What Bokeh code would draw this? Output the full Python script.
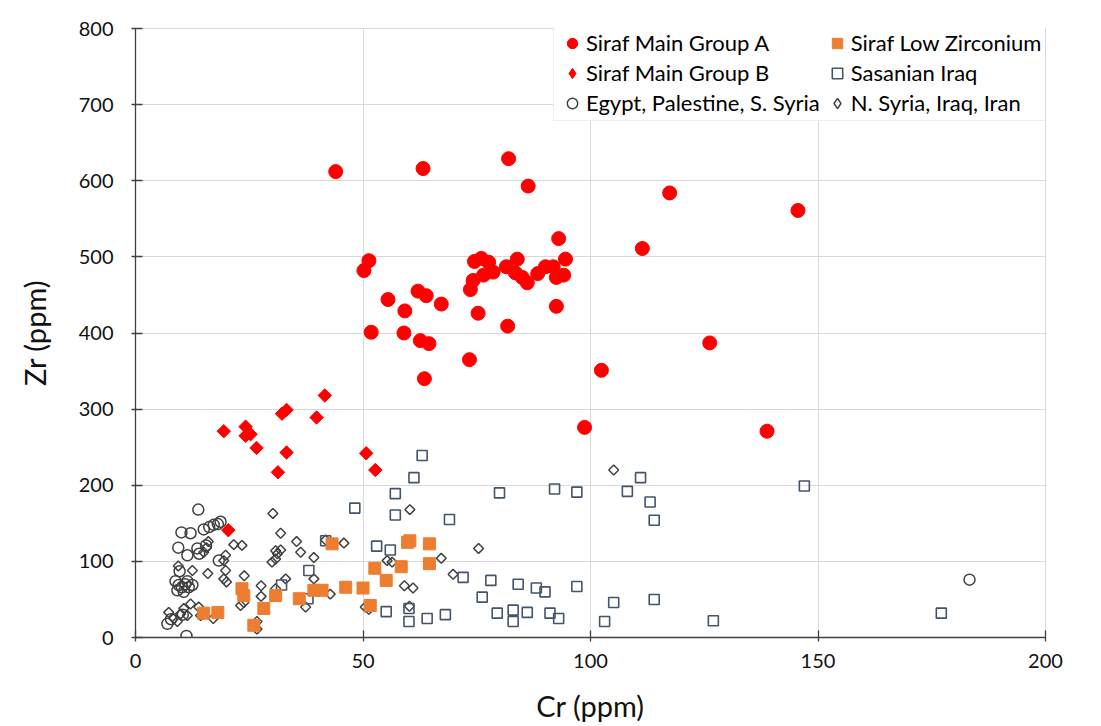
from bokeh.plotting import figure
from bokeh.models import Legend, LegendItem, Range1d, FixedTicker
from bokeh.embed import file_html
from bokeh.resources import INLINE
import math

# Cr and Zr concentrations (ppm) per glass group
grpA_cr = [44.0, 63.2, 82.0, 86.3, 117.4, 145.6, 111.4, 93.0, 51.3, 50.2, 94.5,
           74.5, 76.0, 77.6, 73.6, 74.2, 76.5, 78.6, 81.5, 83.9, 83.5, 85.0, 86.1,
           88.4, 90.1, 91.8, 92.5, 94.1, 55.5, 59.2, 62.1, 63.9, 67.2, 51.8, 59.0,
           62.6, 64.5, 63.5, 92.5, 75.3, 81.8, 73.4, 102.4, 98.7, 126.2, 138.8]
grpA_zr = [612, 616, 629, 593, 584, 561, 511, 524, 495, 482, 497,
           494, 498, 493, 457, 469, 476, 480, 487, 497, 479, 473, 466,
           478, 487, 487, 473, 476, 444, 429, 455, 449, 438, 401, 400,
           390, 386, 340, 435, 426, 409, 365, 351, 276, 387, 271]

grpB_cr = [19.4, 20.4, 24.2, 24.2, 25.3, 26.6, 31.3, 33.2, 32.2, 33.2, 39.8, 41.6, 50.7, 52.7]
grpB_zr = [271, 141, 277, 265, 267, 249, 217, 243, 294, 299, 289, 318, 242, 220]

lowzr_cr = [15.0, 18.1, 23.4, 23.8, 26.0, 28.2, 30.8, 36.0, 39.2, 41.0, 43.2,
            46.2, 50.0, 51.6, 52.6, 55.1, 58.4, 59.8, 60.3, 64.6, 64.6]
lowzr_zr = [32, 33, 64, 55, 16, 38, 55, 51, 62, 62, 123,
            66, 65, 42, 91, 75, 93, 125, 127, 123, 97]

sasan_cr = [32.1, 37.9, 38.1, 41.8, 48.2, 53.0, 55.1, 56.0, 57.1, 57.1, 60.1,
            60.1, 61.2, 63.0, 64.1, 68.1, 69.0, 72.0, 76.2, 78.1, 79.5, 80.0,
            83.0, 83.0, 84.1, 86.1, 88.1, 90.0, 91.1, 92.1, 93.0, 97.0, 97.0,
            103.1, 105.1, 108.1, 111.0, 113.1, 114.0, 114.0, 127.0, 147.0, 177.1]
sasan_zr = [69, 51, 88, 127, 170, 120, 34, 115, 189, 161, 38,
            21, 210, 239, 25, 30, 155, 79, 53, 75, 32, 190,
            36, 21, 70, 33, 65, 60, 32, 195, 25, 191, 67,
            21, 46, 192, 210, 178, 154, 50, 22, 199, 32]

egypt_cr = [13.8, 10.1, 12.1, 15.0, 16.2, 17.2, 18.1, 18.7, 9.4, 11.4, 13.6,
            14.0, 15.5, 18.3, 9.7, 8.8, 9.5, 9.2, 10.2, 10.9, 11.7, 12.5,
            10.6, 11.4, 7.0, 7.8, 11.2, 10.4, 183.3]
egypt_zr = [168, 138, 137, 142, 145, 148, 149, 152, 118, 108, 117,
            110, 121, 101, 87, 74, 69, 62, 66, 70, 66, 69,
            60, 74, 18, 24, 2, 30, 76]

nsyr_cr = [30.2, 31.9, 35.4, 36.3, 39.2, 21.6, 23.4, 19.8, 19.4, 19.8, 19.4,
           20.0, 23.9, 30.8, 31.2, 30.8, 30.0, 31.9, 27.6, 27.6, 23.1, 23.8,
           33.0, 30.8, 39.2, 37.4, 26.7, 26.7, 42.8, 60.3, 41.8, 45.8, 55.3,
           56.4, 67.2, 59.1, 61.0, 50.5, 51.3, 60.2, 69.8, 75.4, 105.1, 15.9,
           9.4, 12.5, 7.3, 8.4, 9.2, 10.6, 12.1, 11.4, 13.9, 14.3, 17.1, 9.9,
           16.0, 15.6, 15.0]
nsyr_zr = [163, 137, 126, 112, 105, 122, 121, 108, 101, 88, 77,
           73, 81, 114, 110, 103, 99, 115, 68, 54, 42, 46,
           77, 64, 77, 40, 21, 11, 57, 168, 128, 124, 101,
           99, 104, 68, 65, 40, 37, 41, 83, 117, 220, 84,
           94, 88, 33, 25, 21, 38, 44, 29, 40, 29, 25, 31,
           126, 118, 112]

x_ticks = [0, 50, 100, 150, 200]
y_ticks = [0, 100, 200, 300, 400, 500, 600, 700, 800]

FONT = "Lato"
GRID = "#D9D9D9"
RED = "#FF0000"
ORANGE = "#ED7D31"
SLATE = "#44546A"
DARK = "#404040"

p = figure(width=1101, height=726, output_backend="svg", toolbar_location=None,
           x_range=Range1d(0, 200), y_range=Range1d(0, 800),
           min_border_left=135, min_border_right=56, min_border_top=28,
           min_border_bottom=89, background_fill_color="white",
           border_fill_color="white")

p.outline_line_color = GRID
p.xgrid.grid_line_color = GRID
p.ygrid.grid_line_color = GRID
p.xaxis.ticker = FixedTicker(ticks=x_ticks)
p.yaxis.ticker = FixedTicker(ticks=y_ticks)

for ax in (p.xaxis[0], p.yaxis[0]):
    ax.axis_line_color = DARK
    ax.axis_line_width = 1.3
    ax.major_tick_line_color = DARK
    ax.major_tick_line_width = 1.3
    ax.major_tick_in = 7
    ax.major_tick_out = 4
    ax.minor_tick_line_color = None
    ax.major_label_text_font = FONT
    ax.major_label_text_font_size = "20px"
    ax.major_label_text_color = "#111111"
    ax.axis_label_text_font = FONT
    ax.axis_label_text_font_size = "29px"
    ax.axis_label_text_font_style = "normal"
    ax.axis_label_text_color = "#111111"

p.xaxis.axis_label = "Cr (ppm)"
p.yaxis.axis_label = "Zr (ppm)"
p.xaxis.major_label_standoff = 12
p.xaxis.axis_label_standoff = 17
p.yaxis.major_label_standoff = 18
p.yaxis.axis_label_standoff = 24

# diamonds in the plot area are squares turned by 45 degrees
TURN = math.pi / 4

r_egypt = p.scatter(egypt_cr, egypt_zr, marker="circle", size=11,
                    fill_color=None, line_color=DARK, line_width=1.5)
r_nsyr = p.scatter(nsyr_cr, nsyr_zr, marker="square", angle=TURN, size=7,
                   fill_color=None, line_color=DARK, line_width=1.5)
r_sasan = p.scatter(sasan_cr, sasan_zr, marker="square", size=10,
                    fill_color=None, line_color=SLATE, line_width=1.6)
r_lowzr = p.scatter(lowzr_cr, lowzr_zr, marker="square", size=12,
                    fill_color=ORANGE, line_color=ORANGE, line_width=1)
r_grpB = p.scatter(grpB_cr, grpB_zr, marker="square", angle=TURN, size=9.5,
                   fill_color=RED, line_color=RED, line_width=1)
r_grpA = p.scatter(grpA_cr, grpA_zr, marker="circle", size=14,
                   fill_color=RED, line_color=RED, line_width=1)

# legend swatches for the diamond groups (legend glyphs ignore marker angle)
nan = [float("nan")]
key_grpB = p.scatter(nan, nan, marker="diamond", size=10,
                     fill_color=RED, line_color=RED, line_width=1)
key_nsyr = p.scatter(nan, nan, marker="diamond", size=10,
                     fill_color=None, line_color=DARK, line_width=1.5)

legend = Legend(items=[
    LegendItem(label="Siraf Main Group A", renderers=[r_grpA]),
    LegendItem(label="Siraf Low Zirconium", renderers=[r_lowzr]),
    LegendItem(label="Siraf Main Group B", renderers=[key_grpB]),
    LegendItem(label="Sasanian Iraq", renderers=[r_sasan]),
    LegendItem(label="Egypt, Palestine, S. Syria", renderers=[r_egypt]),
    LegendItem(label="N. Syria, Iraq, Iran", renderers=[key_nsyr]),
], orientation="horizontal", ncols=2, location=(418, 516),
    label_text_font=FONT, label_text_font_size="22px", label_text_color="#000000",
    glyph_width=28, glyph_height=26, label_standoff=0, label_width=222,
    spacing=3, padding=4, margin=0, border_line_color=GRID, border_line_width=1,
    background_fill_color="white", background_fill_alpha=1.0)
p.add_layout(legend, "center")

open("out.html", "w").write(file_html(p, INLINE))
